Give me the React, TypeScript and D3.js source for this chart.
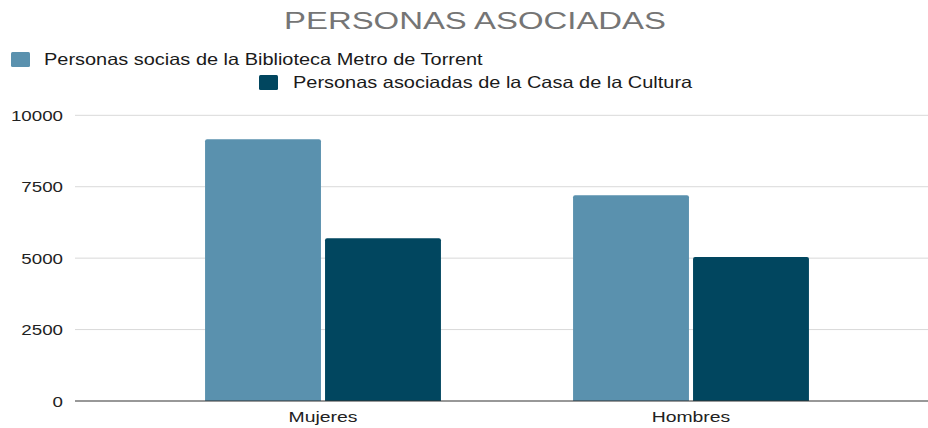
import { useEffect, useRef } from "react";
import * as d3 from "d3";

const TITLE = "PERSONAS ASOCIADAS";
const CATEGORIES = ["Mujeres", "Hombres"];
const SERIES = [
  "Personas socias de la Biblioteca Metro de Torrent",
  "Personas asociadas de la Casa de la Cultura",
];
const BIBLIOTECA = [9160, 7200];
const CASA_CULTURA = [5700, 5040];
const Y_TICKS = [0, 2500, 5000, 7500, 10000];

const COLORS = ["#5a91ae", "#01465f"];

// the source image is stretched horizontally
const STRETCH = 1.21;
const TITLE_STRETCH = 1.4;
const FONT = "'Liberation Sans', Arial, sans-serif";

const W = 928;
const H = 428;

export default function App() {
  const svgRef = useRef<SVGSVGElement | null>(null);

  useEffect(() => {
    const svg = d3.select(svgRef.current);
    svg.selectAll("*").remove();

    const seriesValues = [BIBLIOTECA, CASA_CULTURA];

    const plotLeft = 75;
    const plotRight = W;
    const y = d3.scaleLinear().domain([0, 10000]).range([401, 115.3]);

    const x0 = d3
      .scaleBand<string>()
      .domain(CATEGORIES)
      .range([139, 875])
      .paddingInner(0.359)
      .paddingOuter(0.1795);

    const x1 = d3
      .scaleBand<string>()
      .domain(SERIES)
      .range([0, x0.bandwidth()])
      .paddingInner(0.034);

    const stretchedText = (
      g: d3.Selection<any, any, any, any>,
      tx: number,
      ty: number,
      text: string,
      size: number,
      fill: string,
      anchor: string,
      k: number = STRETCH
    ) =>
      g
        .append("text")
        .attr("transform", `translate(${tx},${ty}) scale(${k},1)`)
        .attr("font-family", FONT)
        .attr("font-size", size)
        .attr("fill", fill)
        .attr("text-anchor", anchor)
        .text(text);

    // title
    stretchedText(svg, 475, 29.3, TITLE, 23.5, "#757575", "middle", TITLE_STRETCH);

    // legend
    const legendPos = [
      { x: 11, y: 52, tx: 44, ty: 65 },
      { x: 259, y: 75, tx: 293, ty: 88.3 },
    ];
    SERIES.forEach((s, i) => {
      const p = legendPos[i];
      svg
        .append("rect")
        .attr("x", p.x)
        .attr("y", p.y)
        .attr("width", 19)
        .attr("height", 15)
        .attr("rx", 1.5)
        .attr("fill", COLORS[i]);
      stretchedText(svg, p.tx, p.ty, s, 16.5, "#1a1a1a", "start");
    });

    // grid lines
    svg
      .append("g")
      .selectAll("line")
      .data(Y_TICKS.filter((t) => t > 0))
      .join("line")
      .attr("x1", plotLeft)
      .attr("x2", plotRight)
      .attr("y1", (d) => y(d))
      .attr("y2", (d) => y(d))
      .attr("stroke", "#d9d9d9")
      .attr("stroke-width", 1);

    // y tick labels
    const yl = svg.append("g");
    Y_TICKS.forEach((t) => {
      stretchedText(yl, 63, y(t) + 5.7, String(t), 15.5, "#222", "end");
    });

    // bars
    const barPath = (bx: number, by: number, bw: number, bh: number) => {
      const r = 2;
      return `M${bx},${by + bh}V${by + r}Q${bx},${by} ${bx + r},${by}H${bx + bw - r}Q${bx + bw},${by} ${bx + bw},${by + r}V${by + bh}Z`;
    };

    const groups = svg
      .append("g")
      .selectAll("g")
      .data(CATEGORIES)
      .join("g")
      .attr("transform", (d) => `translate(${x0(d)},0)`);

    groups
      .selectAll("path")
      .data((_, ci) => SERIES.map((s, si) => ({ s, si, v: seriesValues[si][ci] })))
      .join("path")
      .attr("d", (d) =>
        barPath(x1(d.s)!, y(d.v), x1.bandwidth(), y(0) - y(d.v))
      )
      .attr("fill", (d) => COLORS[d.si]);

    // baseline
    svg
      .append("line")
      .attr("x1", plotLeft)
      .attr("x2", plotRight)
      .attr("y1", y(0))
      .attr("y2", y(0))
      .attr("stroke", "#333")
      .attr("stroke-width", 1.2);

    // category labels
    const xl = svg.append("g");
    CATEGORIES.forEach((c) => {
      stretchedText(xl, x0(c)! + x0.bandwidth() / 2, 422, c, 15.5, "#222", "middle", 1.25);
    });
  }, []);

  return (
    <svg
      ref={svgRef}
      width={W}
      height={H}
      style={{ position: "absolute", top: 0, left: 0, background: "#fff" }}
    />
  );
}
